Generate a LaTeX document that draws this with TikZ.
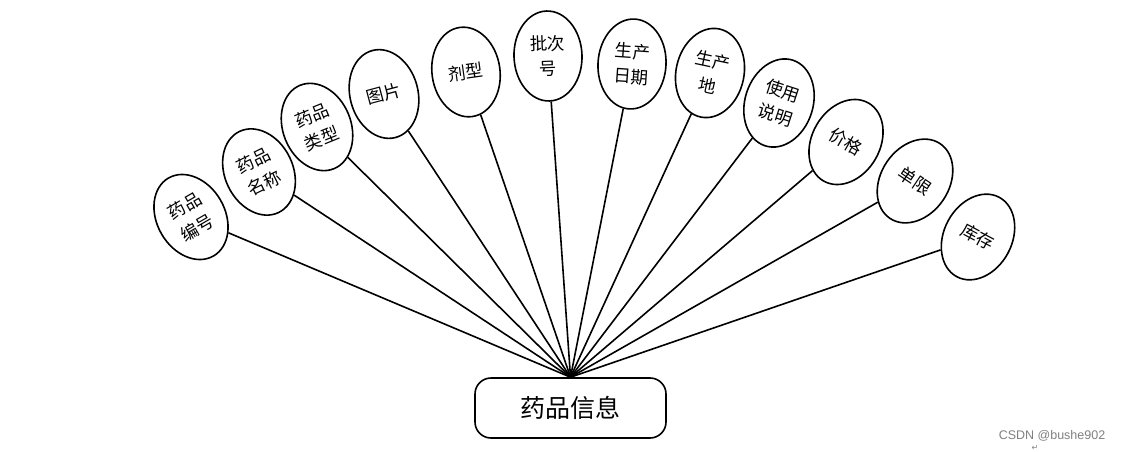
\documentclass[tikz,border=0pt]{standalone}
\usepackage{fontspec}
\usetikzlibrary{shapes.geometric}
\newfontfamily\cjk{Noto Sans CJK SC}
\newfontfamily\wmfont{Liberation Sans}
\newfontfamily\symfont{DejaVu Sans}
\tikzset{
  attr/.style={draw, ellipse, line width=1.6pt, minimum width=68pt, minimum height=90pt,
    inner sep=0pt, align=center, font=\cjk\fontsize{17.5}{25}\selectfont},
  entity/.style={draw, rounded corners=16pt, line width=1.6pt, minimum width=191pt,
    minimum height=60pt, font=\cjk\fontsize{25}{30}\selectfont},
  link/.style={line width=1.6pt}
}
\begin{document}
\begin{tikzpicture}[x=1pt,y=1pt]
    \useasboundingbox (0,0) rectangle (1124,451);
    \node[entity] (info) at (570.5,43) {药品信息};
    % attributes round the entity
    \foreach \n/\x/\y/\r/\lbl in {
        a1/191/234/30/{药品\\编号},
        a2/259/279/26/{药品\\名称},
        a3/317/324/22/{药品\\类型},
        a4/384/357/15/{图片},
        a5/466/379/8/{剂型},
        a6/548/395/2/{批次\\号},
        a7/632/387/-4/{生产\\日期},
        a8/710/378/-12/{生产\\地},
        a9/779/348/-18/{使用\\说明},
        a10/846/309/-30/{价格},
        a11/915/270/-34/{单限},
        a12/978/214/-28/{库存}}
    {
        \node[attr, rotate=\r] (\n) at (\x,\y) {\lbl};
        \draw[link] (info.north) -- (\n);
    }
    \node[text=gray, font=\wmfont\fontsize{12.5}{14}\selectfont] (mark) at (1052,15) {CSDN @bushe902};
    \node[text=gray, font=\symfont\fontsize{8}{9}\selectfont] (ret) at (1035,3) {↵};
\end{tikzpicture}
\end{document}
